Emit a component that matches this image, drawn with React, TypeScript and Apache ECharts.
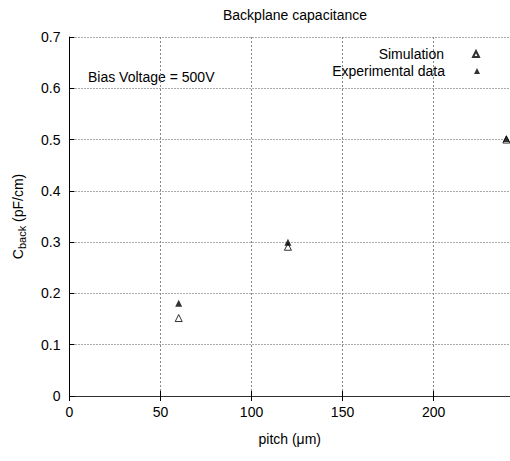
import React, { useEffect, useRef } from "react";
import * as echarts from "echarts";

const pitch = [60, 120, 240];
const simulation = [0.152, 0.291, 0.5];
const experimental = [0.181, 0.3, 0.502];
const xTicks = [0, 50, 100, 150, 200];
const title = "Backplane capacitance";
const annotation = "Bias Voltage = 500V";

export default function App() {
  const ref = useRef<HTMLDivElement>(null);
  useEffect(() => {
    if (!ref.current) return;
    const chart = echarts.init(ref.current, undefined, { renderer: "svg" });
    const font = "Liberation Sans, Arial, Helvetica, sans-serif";
    const legendText = { fontSize: 14, color: "#000", fontFamily: font, padding: [0, 24, 0, 0] };
    chart.setOption({
      animation: false,
      textStyle: { fontFamily: font },
      title: {
        text: title,
        left: 290,
        textAlign: "center",
        top: 3,
        textStyle: { fontSize: 14, fontWeight: "normal", color: "#000", fontFamily: font },
      },
      grid: { left: 69, right: 0, top: 37, bottom: 65 },
      legend: [
        {
          data: ["Simulation"],
          orient: "vertical",
          align: "right",
          right: 25,
          top: 42,
          itemWidth: 6,
          itemHeight: 6,
          textStyle: legendText,
        },
        {
          data: ["Experimental data"],
          orient: "vertical",
          align: "right",
          right: 25,
          top: 59,
          itemWidth: 6,
          itemHeight: 6,
          textStyle: legendText,
        },
      ],
      xAxis: [
        {
          type: "value",
          min: 0,
          max: 242,
          interval: 50,
          name: "pitch (\u03bcm)",
          nameLocation: "middle",
          nameGap: 36,
          nameTextStyle: { fontSize: 14, color: "#000", fontFamily: font },
          axisLine: { show: true, onZero: false, lineStyle: { color: "#000", width: 1 } },
          axisTick: { show: true, inside: true, length: 5, lineStyle: { color: "#000" } },
          axisLabel: {
            fontSize: 14,
            color: "#000",
            margin: 9,
            showMaxLabel: false,
            formatter: (v: number) => (xTicks.includes(v) ? String(v) : ""),
          },
          splitLine: { show: true, lineStyle: { color: "#888", type: [2, 2], width: 1 } },
        },
        {
          type: "value",
          position: "top",
          min: 0,
          max: 242,
          interval: 50,
          axisLine: { show: true, lineStyle: { color: "#333", type: [2, 1], width: 1 } },
          axisTick: { show: true, inside: true, length: 5, lineStyle: { color: "#000" } },
          axisLabel: { show: false },
          splitLine: { show: false },
        },
      ],
      yAxis: {
        type: "value",
        min: 0,
        max: 0.7,
        interval: 0.1,
        name: "{c|C}{s|back}{c| (pF/cm)}",
        nameLocation: "middle",
        nameRotate: 90,
        nameGap: 43,
        nameTextStyle: {
          color: "#000",
          fontFamily: font,
          rich: {
            c: { fontSize: 14, lineHeight: 18, color: "#000", fontFamily: font },
            s: { fontSize: 11, lineHeight: 18, color: "#000", fontFamily: font, padding: [8, 0, 0, 0] },
          },
        },
        axisLine: { show: true, lineStyle: { color: "#000", width: 1 } },
        axisTick: { show: true, inside: true, length: 5, lineStyle: { color: "#000" } },
        axisLabel: {
          fontSize: 14,
          color: "#000",
          margin: 9,
          formatter: (v: number) => (v === 0 ? "0" : v.toFixed(1)),
        },
        splitLine: { show: true, lineStyle: { color: "#555", type: [1, 2], width: 1 } },
      },
      graphic: [
        {
          type: "text",
          left: 88,
          top: 70,
          style: { text: annotation, fontSize: 14, fill: "#000", fontFamily: font },
        },
      ],
      series: [
        {
          name: "Simulation",
          type: "scatter",
          symbol: "triangle",
          symbolSize: 7,
          itemStyle: { color: "#fff", borderColor: "#000", borderWidth: 1 },
          data: pitch.map((p, i) => [p, simulation[i]]),
          z: 2,
        },
        {
          name: "Experimental data",
          type: "scatter",
          symbol: "triangle",
          symbolSize: 7,
          itemStyle: { color: "#000" },
          data: pitch.map((p, i) => [p, experimental[i]]),
          z: 3,
        },
      ],
    });
    return () => chart.dispose();
  }, []);
  return <div ref={ref} style={{ width: 510, height: 461, position: "absolute", left: 0, top: 0, background: "#fff" }} />;
}
